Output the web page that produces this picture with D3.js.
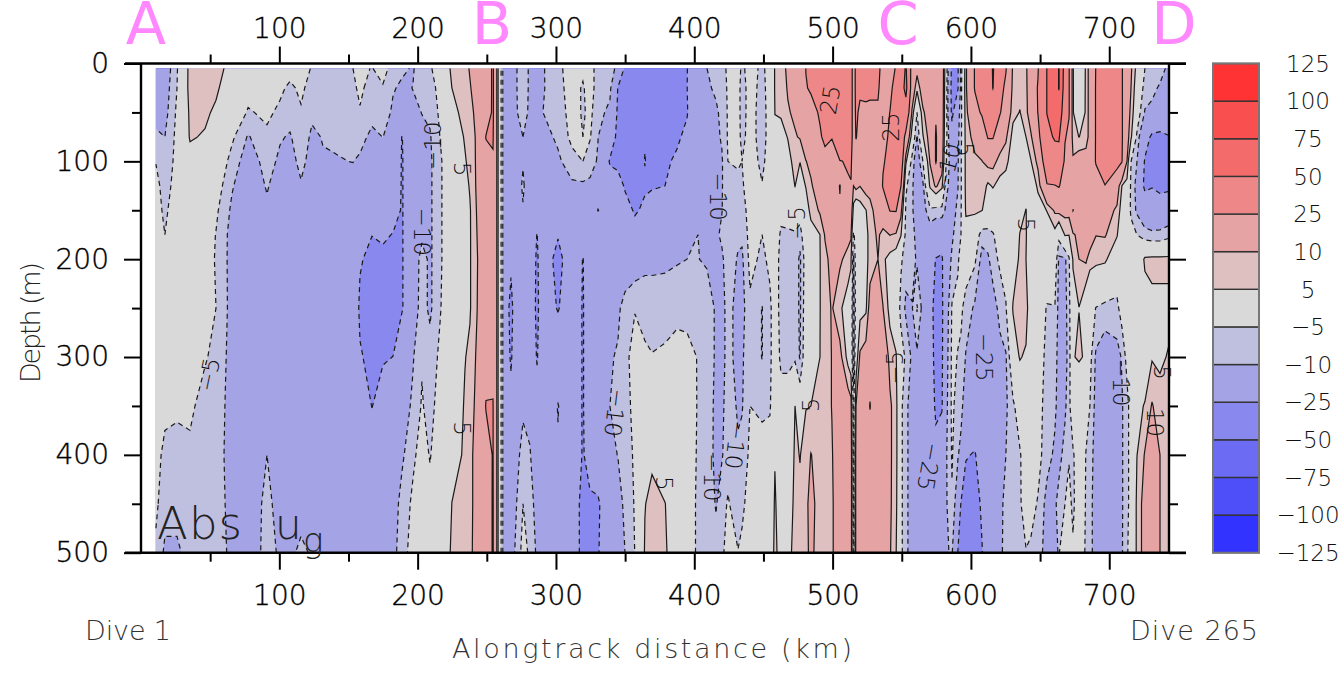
<!DOCTYPE html>
<html>
<head>
<meta charset="utf-8">
<script src="https://cdn.jsdelivr.net/npm/d3@7"></script>
<style>
  html, body { margin: 0; padding: 0; background: #fff; }
  svg { display: block; }
  text { font-family: "DejaVu Sans", sans-serif; font-weight: 200; }
</style>
</head>
<body>
<svg id="chart" width="1344" height="673"></svg>
<script>
// ── Data ────────────────────────────────────────────────

const depthM = [5, 25, 50, 75, 100, 125, 150, 175, 200, 250, 300, 350, 400, 450, 500]

const distanceKm = [
  10.8, 17.3, 26, 35.4, 46.3, 54.2, 65.8, 77.4, 91.1, 100.5, 107.7, 115.7, 123.6, 131.6, 153.3, 158.3,
  167, 174.9, 182.2, 188.7, 196.6, 203.1, 208.9, 216.1, 224.8, 234.2, 237.8, 242.9, 249.4, 254.5, 256.6,
  258.4, 259.9, 261, 262.4, 267.5, 271.1, 276.2, 281.2, 286.3, 290.6, 301.5, 311.6, 319.5, 324.6, 330.4,
  339, 344.8, 349.9, 357.1, 364.3, 369.4, 378.8, 387.5, 394.7, 402.7, 409.2, 415.7, 420, 424.3, 431.6,
  434.5, 440.3, 449, 454.7, 458.3, 462.7, 467.7, 472.8, 476.4, 480.7, 484.3, 490.9, 494.5, 499.5, 505.3,
  511.1, 513.3, 515.1, 516.9, 519.8, 524.1, 527, 532.8, 536.4, 541.5, 545.8, 549.4, 553, 557.4, 561,
  565.3, 570.4, 574.7, 579, 581.9, 586.3, 590.6, 592.8, 596.4, 602.9, 608, 612.3, 615.9, 621, 625.3,
  630.4, 635.4, 639.8, 643.4, 648.5, 655, 660.7, 663.6, 668, 670.9, 673.8, 678.1, 683.2, 686, 690.4,
  696.9, 705.6, 709.2, 712.8, 715.7, 720, 725.8, 730.9, 736.7, 743.2
]

// one profile per distance, one value per depth
const uProfiles = [
  [-13,-13,-12,-9,-5.2,-3.5,-3,-2,-2,-2,-2,-2,-3,-4,-6],
  [-14,-13,-12,-10,-9,-7,-6,-5,-3.5,-2,-2,-3.5,-6.5,-8,-11],
  [-5.5,-5,-4,-3.5,-3,-3,-2,-2,-1.5,-2,-2,-4,-7,-8,-11],
  [7,7,6,5.5,3,0,0,0,0,-1,-2,-4,-6,-7,-8],
  [8,8,6,4.5,2,0,0,-1,-2,-3,-4.5,-7,-8,-8,-8],
  [7,6,4,3,0,-2,-4,-5.2,-5.5,-5,-6.5,-7.5,-8,-8,-8],
  [3,1,-1,-4,-7,-9.5,-11,-12,-12,-12,-12,-12,-12,-11.5,-11],
  [-1,-3,-5.5,-10.5,-13,-14,-14,-15,-15,-15,-15,-15,-15,-15,-15],
  [-1,-2,-4,-6,-8,-9.5,-11,-12,-13,-14,-14,-14,-10,-8,-7.5],
  [-2,-4,-6,-9.5,-11,-13,-14,-14,-15,-15,-15,-15,-14,-13,-11],
  [-3,-6,-8,-10.5,-12,-13,-15,-15,-15,-15,-15,-15,-15,-12,-11],
  [-2,-4,-5.5,-7,-8.5,-10.5,-13,-15,-15,-15,-15,-15,-15,-12,-9],
  [-5.5,-7,-9,-11,-12,-13,-15,-15,-15,-15,-15,-15,-15,-13,-10.5],
  [-5.5,-6,-8,-9.7,-10.5,-13,-14,-15,-15,-15,-15,-15,-15,-15,-14],
  [-5,-5.5,-7,-8.5,-9.9,-12,-14,-15,-16,-16,-16,-15,-15,-15,-15],
  [-4,-4.5,-5.2,-8,-11,-13,-16,-20,-24,-27,-24,-18,-15,-15,-15],
  [-5.2,-6,-8,-11.5,-13,-15,-18,-24.8,-28,-30,-28,-25.3,-18,-15,-14],
  [-3,-5.5,-7,-9.9,-13,-15,-18,-23,-28,-30,-26,-20,-16,-14,-14],
  [-7,-9.5,-11,-13,-14,-16,-20,-25.5,-28,-30,-24.9,-20,-15,-13,-12],
  [-9,-11,-13,-25.5,-26,-26,-26,-26,-26,-26,-15,-13,-11,-8,-7],
  [-10.5,-9.9,-11,-12,-14,-14,-14,-14,-14,-13,-10.5,-9,-6,-4,-3],
  [-7,-8,-9.9,-11,-12,-13,-13,-11,-8,-8,-5.5,-4.5,-3,-2,-1],
  [-5.5,-7,-9,-10.5,-11,-11,-11,-11,-11,-11,-8,-7,-5.3,-3.5,-2],
  [-3,-3.5,-4,-5,-6,-6,-6,-6,-6,-5.5,-4,-2.5,-2,-1.5,-1],
  [6.5,5,3,1,0,0,0,0,0,0,0,1,2,5.1,6],
  [8,8,7,5.5,4.5,3,2,2,2,2.5,4.8,5.5,6,6,7],
  [10.5,9.5,8,7,6.5,5.5,4.5,4.5,4.5,4.5,6,7,8,8,8.5],
  [14,13,12,11,11,11,10.5,10,9.5,9.8,11,12,13,13,13],
  [17,17,18,25.5,21,17,17,17,17,18,21,25.5,21,18,18],
  [27,27,27,26,24,22,22,22,22,22,22,25.5,25.5,26,26],
  [13,13,13,13,13,13,13,13,13,13,13,13,13,13,13],
  [4,4,4,4,4,4,4,4,4,4,4,4,4,4,4],
  [-3,-3,-3,-3,-3,-3,-3,-3,-3,-3,-3,-3,-3,-3,-3],
  [-8,-8,-8,-8,-8,-8,-8,-8,-8,-8,-8,-8,-8,-8,-8],
  [-13,-13,-13,-13,-13,-13,-13,-13,-13,-13,-13,-13,-13,-13,-13],
  [-13,-13,-13,-14,-15,-15,-16,-18,-22,-30,-27,-20,-16,-14,-13],
  [-10.5,-10.5,-10.5,-11,-12,-14,-15,-15,-15,-15,-15,-14,-12,-10.5,-9],
  [-7,-7,-8,-10,-10.5,-9,-10.5,-13,-14,-14,-14,-11,-8,-5,-3],
  [-11,-11,-11,-13,-14,-15,-15,-15,-15,-15,-15,-12,-9.5,-7,-6],
  [-12,-13,-13,-14,-15,-16,-18,-25.5,-27,-28,-26,-20,-15,-13,-11],
  [-10.5,-10.5,-10,-12,-14,-14,-14,-15,-16,-16,-15,-15,-15,-14,-13],
  [-6,-6.5,-7.5,-9,-11,-13,-15,-24,-30,-26,-15,-25.5,-24,-15,-14],
  [-3,-3,-3,-3.5,-7,-11,-14,-15,-15,-15,-15,-15,-15,-15,-15],
  [-4,-5.5,-5.5,-5,-5,-11,-13,-20,-25.5,-26,-26,-26,-26,-30,-30],
  [-3,-3,-4,-4.5,-8,-11,-13,-14,-15,-15,-15,-16,-20,-27,-30],
  [-7,-7,-7.5,-9.9,-10.5,-13,-25.5,-15,-16,-14,-14,-14,-15,-27,-26],
  [-7,-8,-12,-18,-26,-20,-15,-14,-14,-12,-10.5,-10,-11,-14,-14],
  [-12,-25.5,-27,-28,-30,-17,-15,-14,-14,-11,-9.5,-9.5,-9.9,-12,-13],
  [-27,-30,-30,-32,-32,-27,-18,-15,-14,-8,-6,-6.5,-8,-9,-10],
  [-35,-35,-35,-35,-35,-32,-27,-18,-14,-5.2,-3.5,-3.8,-4,-4.5,-4.9],
  [-35,-35,-35,-26,-24.5,-27,-22,-16,-11,-8,-3.5,-2,-0.5,4.8,5.5],
  [-34,-34,-34,-32,-30,-26,-20,-15,-11.5,-7,-4.8,-2,4,6.5,6.5],
  [-32,-31,-30,-28,-27,-25,-17,-14,-11,-7.5,-4,-2,-1,5.2,6],
  [-32,-30,-30,-27,-23,-17,-14,-13,-10.5,-6.5,-3,-1,0,0,0],
  [-25.5,-25.3,-26,-22,-15,-14,-13,-12,-10,-7,-3,-1,0,0,0],
  [-12,-12,-12,-12,-12,-12,-11.5,-10,-9.9,-6,-5.3,-5.5,-6,-6.5,-6.5],
  [-10,-11,-12,-12,-12,-12,-11.5,-11,-10.5,-8,-6,-5.5,-6,-6,-6],
  [-8,-9,-11,-11,-11,-11,-11,-11,-11,-10.5,-11,-12,-12,-10.5,-8],
  [-6,-7,-8.5,-9.5,-10.5,-10.5,-10.2,-9,-11,-12,-12,-11,-10.5,-7,-6],
  [-4.5,-4.5,-4.5,-4.5,-5,-5.5,-5,-6,-7,-8,-8,-8,-7,-4.5,-3],
  [-3,-3,-3,-3,-4.5,-6,-6.5,-9,-10.5,-12,-12,-10.5,-9.5,-7.5,-4.8],
  [-6,-7,-7,-6.5,-5,-5.5,-7,-9,-11,-12,-11,-10.5,-8,-6,-4],
  [-3,-3,-3,-3,-3,-3,-3,-3,-3.5,-6,-5.5,-5,-4,-3,-3],
  [-6,-6.5,-7,-7,-6,-4.8,-4,-5,-6,-10.2,-10.2,-6,-3,-2,-1],
  [-3,-3,-3,-3,-3,-3,-3,-3,-4,-6,-6,-5.5,-3,-2,-1],
  [5.5,5.5,5.1,4,2.5,1,0,-1,-2,-2,-2,-1,4.5,6,7],
  [8,7.5,5.5,3.5,2,0,-3,-6,-7,-7,-6,-3,-1,0,1],
  [11,10.5,9.5,5.2,3.5,1.5,-2,-6,-7,-7,-6,-3,-1,0,3],
  [13,12,11,9.5,6.5,5.1,1,-6,-7,-7,-6,5,6,7,7],
  [17,16,14,10.5,5.1,3,-1,-8,-11,-11,-10.5,0,4.8,6,6.5],
  [25.2,24.5,20,15,9.8,5.2,3,1,-2,-1,0,4.8,7,9,9],
  [28,26,22,17,12,9,6,3.5,1.5,1,2.5,5,10.2,11.5,11],
  [32,30,26,24,20,15,11,5,4.9,4.9,5,6.5,7.5,8,8],
  [38,38,30,27,22,18,13,10.5,8.5,7.5,7.5,7.5,8,8,8.5],
  [40,40,39,25.5,20,17,14,13,12,10.5,10.2,10.2,9.5,9,9],
  [42,42,42,38,24.5,9.5,11,14,11,6,12,15,15,15,15],
  [44,44,43,40,26,24,15,12,8,2,3,14,16,16,16],
  [36,36,36,36,28,24,15,11,6,1,1,12,14,14,14],
  [14,14,14,14,14,10,3,-6,-11,-13,-13,-8,-8,-8,-8],
  [30,30,28,26,16,12,-1,-3,-2,-2,1,10,12,12,12],
  [32,28,22,18,16,10.2,2,2,2,3,11,14,14,14,14],
  [30,29,22,18,16,13,4.8,3,3,4,13,16,15,15,15],
  [30,28,22,18,17,13,7.5,7,7,13,20,25.5,19,17,16],
  [27,26,24,18,16,15,14,11,10,15,17,17,17,17,17],
  [22,21,20,21,24,26,16,8,6,10.2,17,15,15,15,15],
  [19,22,25.2,27,28,28,25.5,10.2,3,3,8,11,11,11,10.5],
  [26,30,32,32,33,32,26,9,2,1,5.5,7,7,6.5,5.5],
  [40,40,40,38,35,25.5,12,5.5,-4,-7,-2,-3.5,-3.5,-3.5,-3.5],
  [52,56,40,20,6,-4,-6,-7,-8,-11,-6,-9,-9,-9,-9],
  [18,16,9,2,-7,-9,-9,-8,-7,-10.5,-11,-12,-12,-12,-12],
  [12,6.5,-5,-10.5,-14,-14,-14,-12,-11,-4.5,-11,-13,-13,-13,-13],
  [14,14,9,4.5,-5,-11,-13,-14,-15,-12,-13,-14,-14,-14,-14],
  [14,14,14,13,10.5,6,-6,-14,-20,-20,-18,-15,-14,-14,-14],
  [22,22,24,26,26,11,-7,-16,-25.5,-30,-30,-28,-20,-14,-13],
  [16,16,16,16,14,6.5,-7,-17,-27,-28,-27,-26,-18,-14,-13],
  [1,0,-1,-2,-4,-8,-11,-13,-15,-14,-13,-12,-11,-11,-11],
  [-28,-30,-28,-20,-15,-13,-12,-11,-9,-4.5,-4,-4,-4.5,-5.5,-9],
  [-27,-26,-13,-11.5,-10.5,-10.2,-9,-7,-5.5,-4,-5.2,-7,-9.5,-15,-25.5],
  [-8,-7,-7,-6.5,-6,-6,-5.5,-5,-3.5,-4,-6,-8,-12,-25.5,-27],
  [9,9,8,7.5,7,7,6,2,-2,-7,-10.5,-14,-24,-32,-30],
  [26,26,20,12,9,7,6,0,-4,-11,-14,-15,-26,-33,-30],
  [30,32,27,14,9.9,8,5.2,-8,-12,-14,-15,-16,-17,-22,-26],
  [33,36,34,26,12,4,1,-7,-11,-13,-14,-14,-13,-13,-13],
  [52,50.5,34,26,12,5.5,0,-5.5,-7,-13,-14,-14,-13,-12,-12],
  [32,30,26,14,8,3,0,-2,-4,-8,-12,-12,-11,-11,-11],
  [26,22,18,11,6.8,2,0,-1,-2,-5.5,-10.5,-11,-10,-9,-8.5],
  [8.5,8,6.5,3,1,0,0,-1,1.5,5.5,1,-6,-6,-6,-6],
  [7.5,6.5,4.8,3,1,1,2,5.3,6,8,5.5,-2,-5.5,-5.5,-6],
  [9,8.5,8,5,3,2,5.2,5.5,5,8,4,-1,-2,-3,-5.2],
  [15,16,15,9,4.8,1,0,-1,-1,-1,-1,-1,-1,-3,-6],
  [24,26,25.5,20,12,6,2.5,0,-1,-1,-2,-2,-3,-5.5,-7],
  [50.5,50.5,50.5,45,36,24,5.2,2,0,-5.5,-6.5,-8,-8,-12,-13],
  [60,60,60,52,40,24.5,11,3,0,-5.3,-8,-9,-11,-11,-24],
  [76,76,65,52,42,26,12,-3,-11,-12,-12,-12,-12,-8,-5.2],
  [40,38,35,26,22,18,12,5.5,-11,-12,-12,-11,-8,-5,-3],
  [26,26,26,22,18,15,12,5.2,-6,-7,-8,-7,-5.5,-3,-2],
  [5.5,5.5,5.5,7,11,14,25.5,9,5.5,3,4.5,1,-6,-6.5,-4],
  [-4,-3,-2,4.9,14,17,17,12,10,4.9,6,-4,0,0,0],
  [6,6,6,6.5,14,17,17,15,11,-1,4,-3,-5.2,-5.5,-6],
  [13,13,13,13,16,19,18,15,7,-2,-3,-5,-7,-8,-8],
  [25.5,26,26,26,26,19,17,10.2,6.5,-5.2,-11,-12,-13,-13,-13],
  [30,32,32,32,30,24.8,13,10.5,6,-6.5,-14,-14,-14,-14,-14],
  [30,32,32,32,30,14,9,5.5,0,-6.5,-12,-12,-13,-13,-13],
  [26,26,26,26,25.5,4.8,2,0,0,-2,-9.5,-10.5,-10.5,-10.5,-10.5],
  [14,14,14,13,10,3,0,0,0,0,-3,-7,-7,-7,-5.8],
  [11,10,8.5,6,-4.9,-6,-6,-3,-2,-2,-2,-2,-2,-2,-2],
  [3,1,-1,-6,-9.9,-12,-11,-5,-1,1,2,3,4.9,6,6],
  [-5,-7,-10.5,-20,-26,-28,-15,-8,6,2,0,5.5,10.5,13,13],
  [-6,-8,-12,-27,-30,-26,-15,-9,6.5,3.5,4.5,10.5,14,14,14],
  [-7,-11,-14,-28,-30,-30,-14,-9,6.5,3.5,4,7,10,10,10],
  [-12,-14,-16,-25.5,-30,-28,-15,-7,6.5,3.5,5.5,6,7,7,7]
]

const levels = [-125, -100, -75, -50, -25, -10, -5, 5, 10, 25, 50, 75, 100, 125]
const bandColors = [
  '#3333ff', '#4f4ffa', '#6b6bf4', '#8888ee', '#a3a3e5', '#bfbfdf', '#d9d9d9',
  '#dfc0c0', '#e5a3a3', '#ee8888', '#f46b6b', '#fa4f4f', '#ff3333'
]

const xTicks = [100, 200, 300, 400, 500, 600, 700]
const xMinorTicks = [50, 150, 250, 350, 450, 550, 650]
const yTicks = [0, 100, 200, 300, 400, 500]
const yMinorTicks = [50, 150, 250, 350, 450]

// etiquettes de contour : texte, km, profondeur, rotation
const contourLabels = [
  ['\u22125', 49, 318, -78], ['\u221210', 211, 84, -90], ['\u221210', 203, 172, 90],
  ['5', 232, 108, 90], ['5', 232, 373, 90], ['\u221210', 417, 136, 90],
  ['\u22125', 474, 163, -90], ['\u221210', 343, 357, 97], ['5', 378, 429, 90],
  ['\u221210', 413, 423, 90], ['\u221210', 430, 390, 97], ['5', 484, 349, -90],
  ['25', 498, 37, -80], ['25', 542, 65, -90], ['\u22125', 545, 311, -90],
  ['5', 596, 88, 90], ['\u221210', 583, 106, -75], ['\u221225', 570, 412, 100],
  ['\u221225', 610, 300, 90], ['5', 640, 165, 90], ['\u221210', 709, 326, 90],
  ['10', 733, 367, 90], ['5', 738, 316, 90]
]

const cornerLetters = [['A', 146], ['B', 492], ['C', 898], ['D', 1174]]

// ── Scales ──────────────────────────────────────────────

const plot = { left: 141, right: 1169, top: 63.5, bottom: 552.7 }
const legend = { left: 1213, right: 1259 }

const x = d3.scaleLinear().domain([0, 743.2]).range([plot.left, plot.right])
const y = d3.scaleLinear().domain([0, 500]).range([plot.top, plot.bottom])

const nx = distanceKm.length
const ny = depthM.length

// d3.contours travaille en indices de grille : on repasse en km / m ensuite
const colToKm = d3.scaleLinear().domain(distanceKm.map((d, i) => i + 0.5)).range(distanceKm).clamp(true)
const rowToDepth = d3.scaleLinear().domain(depthM.map((d, j) => j + 0.5)).range(depthM).clamp(true)

const px = c => x(colToKm(c))
const py = r => y(rowToDepth(r))

const values = new Array(nx * ny)
uProfiles.forEach((profile, i) => profile.forEach((v, j) => { values[j * nx + i] = v }))

const contours = d3.contours().size([nx, ny]).thresholds(levels)(values)

const svg = d3.select('#chart')

// ── Champ coloré ────────────────────────────────────────

const gridPath = d3.geoPath(d3.geoTransform({
  point(cx, cy) { this.stream.point(px(cx), py(cy)) }
}))

svg.append('g').selectAll('path')
  .data(contours.slice(0, bandColors.length))
  .join('path')
  .attr('d', gridPath)
  .attr('fill', (d, i) => bandColors[i])
  .attr('fill-rule', 'evenodd')

// ── Isolignes (sans le bord de la grille) ───────────────

const onEdge = p => p[0] <= 0.5 || p[0] >= nx - 0.5 || p[1] <= 0.5 || p[1] >= ny - 0.5

function linePath(contour) {
  let out = ''
  contour.coordinates.forEach(polygon => polygon.forEach(ring => {
    let pen = false
    for (let k = 1; k < ring.length; k++) {
      const a = ring[k - 1], b = ring[k]
      if (onEdge(a) && onEdge(b)) { pen = false; continue }
      if (!pen) out += `M${px(a[0]).toFixed(1)},${py(a[1]).toFixed(1)}`
      out += `L${px(b[0]).toFixed(1)},${py(b[1]).toFixed(1)}`
      pen = true
    }
  }))
  return out
}

svg.append('g').selectAll('path')
  .data(contours.filter(c => c.value > -125))
  .join('path')
  .attr('d', linePath)
  .attr('fill', 'none')
  .attr('stroke', '#1a1a1a')
  .attr('stroke-width', 1.2)
  .attr('stroke-dasharray', d => d.value < 0 ? '5 4' : null)

// ── Etiquettes ──────────────────────────────────────────

svg.append('g').selectAll('text')
  .data(contourLabels)
  .join('text')
  .attr('transform', d => `translate(${x(d[1])},${y(d[2])}) rotate(${d[3]})`)
  .attr('text-anchor', 'middle')
  .attr('dy', '0.36em')
  .attr('font-size', 23)
  .attr('fill', '#111')
  .text(d => d[0])

// ── Axes ────────────────────────────────────────────────

function styleAxis(g) {
  g.select('.domain').remove()
  g.selectAll('line').attr('stroke', '#000').attr('stroke-width', 2)
  g.selectAll('text').attr('font-size', 28).attr('fill', '#000')
    .attr('stroke', '#000').attr('stroke-width', 0.35)
}

const axisTicks = [
  [d3.axisTop(x).tickValues(xTicks).tickSize(17).tickPadding(9), `translate(0,${plot.top})`],
  [d3.axisTop(x).tickValues(xMinorTicks).tickSize(9).tickFormat(''), `translate(0,${plot.top})`],
  [d3.axisBottom(x).tickValues(xTicks).tickSize(17).tickPadding(15), `translate(0,${plot.bottom})`],
  [d3.axisBottom(x).tickValues(xMinorTicks).tickSize(9).tickFormat(''), `translate(0,${plot.bottom})`],
  [d3.axisLeft(y).tickValues(yTicks).tickSize(17).tickPadding(15), `translate(${plot.left},0)`],
  [d3.axisLeft(y).tickValues(yMinorTicks).tickSize(9).tickFormat(''), `translate(${plot.left},0)`],
  [d3.axisRight(y).tickValues(yTicks).tickSize(17).tickFormat(''), `translate(${plot.right},0)`],
  [d3.axisRight(y).tickValues(yMinorTicks).tickSize(9).tickFormat(''), `translate(${plot.right},0)`]
]
axisTicks.forEach(([axis, tr]) => svg.append('g').attr('transform', tr).call(axis).call(styleAxis))

// cadre : les traits haut et bas dépassent jusqu'au bout des graduations
const frame = [
  [plot.left - 16, plot.top, plot.right + 17, plot.top],
  [plot.left - 16, plot.bottom, plot.right + 17, plot.bottom],
  [plot.left, plot.top, plot.left, plot.bottom],
  [plot.right, plot.top, plot.right, plot.bottom]
]
svg.append('g').selectAll('line').data(frame).join('line')
  .attr('x1', d => d[0]).attr('y1', d => d[1]).attr('x2', d => d[2]).attr('y2', d => d[3])
  .attr('stroke', '#000').attr('stroke-width', 2.4)

// ── Légende ─────────────────────────────────────────────

const legendY = d3.scalePoint().domain(levels).range([plot.bottom, plot.top])

svg.append('g').selectAll('rect')
  .data(bandColors)
  .join('rect')
  .attr('x', legend.left)
  .attr('width', legend.right - legend.left)
  .attr('y', (d, i) => legendY(levels[i + 1]))
  .attr('height', (d, i) => legendY(levels[i]) - legendY(levels[i + 1]))
  .attr('fill', d => d)
  .attr('stroke', '#333')
  .attr('stroke-width', 1.4)

svg.append('rect')
  .attr('x', legend.left).attr('y', plot.top)
  .attr('width', legend.right - legend.left).attr('height', plot.bottom - plot.top)
  .attr('fill', 'none').attr('stroke', '#777').attr('stroke-width', 2)

svg.append('g').selectAll('text')
  .data(levels)
  .join('text')
  .attr('x', 1308)
  .attr('y', d => legendY(d))
  .attr('dy', '0.36em')
  .attr('text-anchor', 'middle')
  .attr('font-size', 23)
  .attr('fill', '#111')
  .text(d => d < 0 ? '\u2212' + Math.abs(d) : d)

// ── Textes ──────────────────────────────────────────────

svg.append('g').selectAll('text')
  .data(cornerLetters)
  .join('text')
  .attr('x', d => d[1])
  .attr('y', 44)
  .attr('text-anchor', 'middle')
  .attr('font-size', 59)
  .style('font-weight', 400)
  .attr('fill', '#ff88ff')
  .text(d => d[0])

const addText = (label, tx, ty, size, len, fill, rot) => svg.append('text')
  .attr('transform', `translate(${tx},${ty})` + (rot ? ` rotate(${rot})` : ''))
  .attr('font-size', size)
  .attr('fill', fill)
  .attr('textLength', len)
  .attr('lengthAdjust', 'spacing')
  .text(label)

addText('Depth (m)', 40, 383, 27, 121, '#222', -90)
addText('Alongtrack distance (km)', 452, 658, 27, 400, '#333')
addText('Dive 1', 85, 640, 27, 86, '#333')
addText('Dive 265', 1130, 640, 27, 128, '#333')
addText('Abs', 157, 539, 45, 85, '#222')
addText('u', 275, 539, 42, 22, '#222')
addText('g', 303, 552, 34, 19, '#222')
</script>
</body>
</html>
